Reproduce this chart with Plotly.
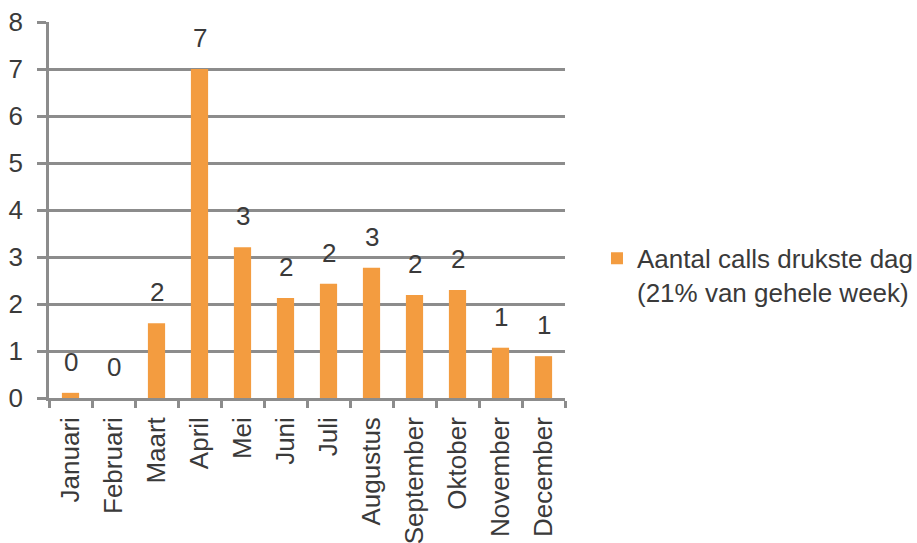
import plotly.graph_objects as go

# Monthly counts for the busiest day
months = ["Januari", "Februari", "Maart", "April", "Mei", "Juni", "Juli",
          "Augustus", "September", "Oktober", "November", "December"]
calls = [0.11, 0.0, 1.59, 7.0, 3.21, 2.13, 2.43, 2.77, 2.19, 2.30, 1.07, 0.89]
series_name = "Aantal calls drukste dag<br>(21% van gehele week)"
y_ticks = [0, 1, 2, 3, 4, 5, 6, 7, 8]

FONT = "Liberation Sans, Arial, sans-serif"
TEXT = "#3a3a3a"
GRID = "#8c8c8c"
BAR = "#F39C40"

fig = go.Figure()
fig.add_trace(go.Bar(
    x=months, y=calls, name=series_name,
    marker=dict(color=BAR, line=dict(width=0)),
    showlegend=True,
))

# value labels above each bar
for m, v in zip(months, calls):
    fig.add_annotation(
        x=m, y=v, text=f"{v:.0f}", showarrow=False,
        yanchor="bottom", yshift=14,
        font=dict(family=FONT, size=26, color=TEXT),
    )

fig.update_layout(
    width=917, height=543, autosize=False,
    margin=dict(l=49, r=352, t=22, b=145, autoexpand=False),
    paper_bgcolor="white", plot_bgcolor="white",
    font=dict(family=FONT, size=26, color=TEXT),
    bargap=0.6,
    legend=dict(
        x=1.062, xanchor="left", y=0.434, yanchor="top",
        valign="top", bgcolor="rgba(0,0,0,0)",
        font=dict(family=FONT, size=26, color=TEXT),
        itemsizing="constant",
    ),
)
fig.update_xaxes(
    type="category", showgrid=False,
    showline=True, linecolor=GRID, linewidth=2.5,
    ticks="outside", tickson="boundaries", ticklen=7,
    tickcolor=GRID, tickwidth=2.5,
    tickangle=-90, ticklabelstandoff=6,
    tickfont=dict(family=FONT, size=26, color=TEXT),
)
fig.update_yaxes(
    range=[0, 8], tickvals=y_ticks,
    showgrid=True, gridcolor=GRID, gridwidth=2.5,
    showline=True, linecolor=GRID, linewidth=2.5,
    ticks="outside", ticklen=9, tickcolor=GRID, tickwidth=2.5,
    ticklabelstandoff=9, zeroline=False,
    tickfont=dict(family=FONT, size=26, color=TEXT),
)

fig.write_html("out.html")
